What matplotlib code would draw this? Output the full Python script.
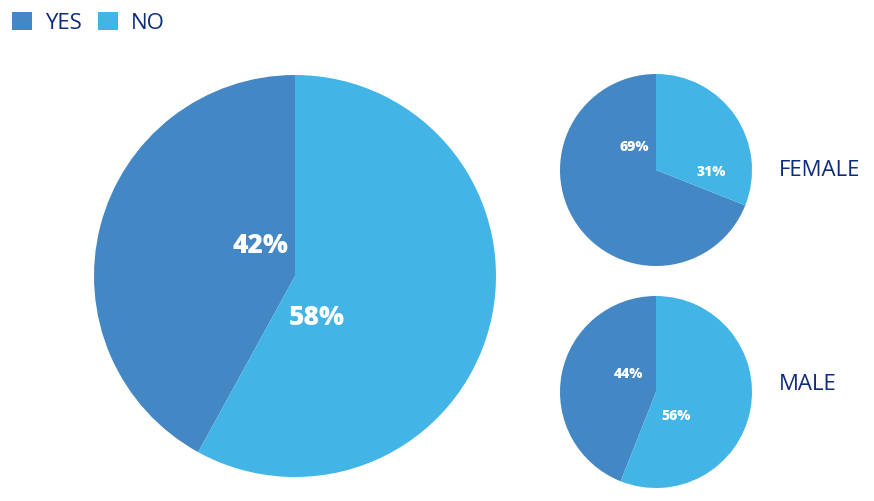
import matplotlib.pyplot as plt

categories = ["YES", "NO"]
total = [42, 58]
female = [69, 31]
male = [44, 56]
group_names = ["FEMALE", "MALE"]

colors = ["#4487C5", "#42B4E6"]
navy = "#0E2C7C"
font = "Open Sans"

W, H = 874, 501
fig = plt.figure(figsize=(W / 100, H / 100), dpi=100)


def pie_axes(cx, cy, r):
    # pixel center/radius (from top-left) -> figure axes
    return fig.add_axes([(cx - r) / W, (H - cy - r) / H, 2 * r / W, 2 * r / H])


def draw_pie(ax, values, label_pos, fs):
    wedges, _ = ax.pie(values, colors=colors, startangle=90, counterclock=True,
                       wedgeprops=dict(linewidth=0))
    ax.set_xlim(-1, 1)
    ax.set_ylim(-1, 1)
    ax.set_aspect("equal")
    ax.axis("off")
    for v, (x, y) in zip(values, label_pos):
        ax.text(x, y, f"{v}%", color="white", fontsize=fs, fontweight="heavy",
                ha="center", va="center", family=font)
    return wedges


ax_big = pie_axes(295, 276, 201)
wedges = draw_pie(ax_big, total, [(-0.17, 0.15), (0.11, -0.21)], 19)

ax_f = pie_axes(656, 170, 96)
draw_pie(ax_f, female, [(-0.23, 0.24), (0.58, -0.02)], 10)

ax_m = pie_axes(656, 392, 96)
draw_pie(ax_m, male, [(-0.29, 0.19), (0.21, -0.25)], 10)

fig.text(779 / W, 1 - 170 / H, group_names[0], color=navy, fontsize=16,
         va="center", ha="left", family=font)
fig.text(779 / W, 1 - 384 / H, group_names[1], color=navy, fontsize=16,
         va="center", ha="left", family=font)

leg = fig.legend(wedges, categories, loc="upper left",
                 bbox_to_anchor=(12 / W, 1 - 12 / H),
                 ncol=2, frameon=False, handlelength=0.9, handleheight=0.9,
                 handletextpad=0.6, columnspacing=0.7, borderaxespad=0,
                 borderpad=0, prop=dict(family=font, size=16))
for t in leg.get_texts():
    t.set_color(navy)

fig.savefig("out.png", dpi=100)
